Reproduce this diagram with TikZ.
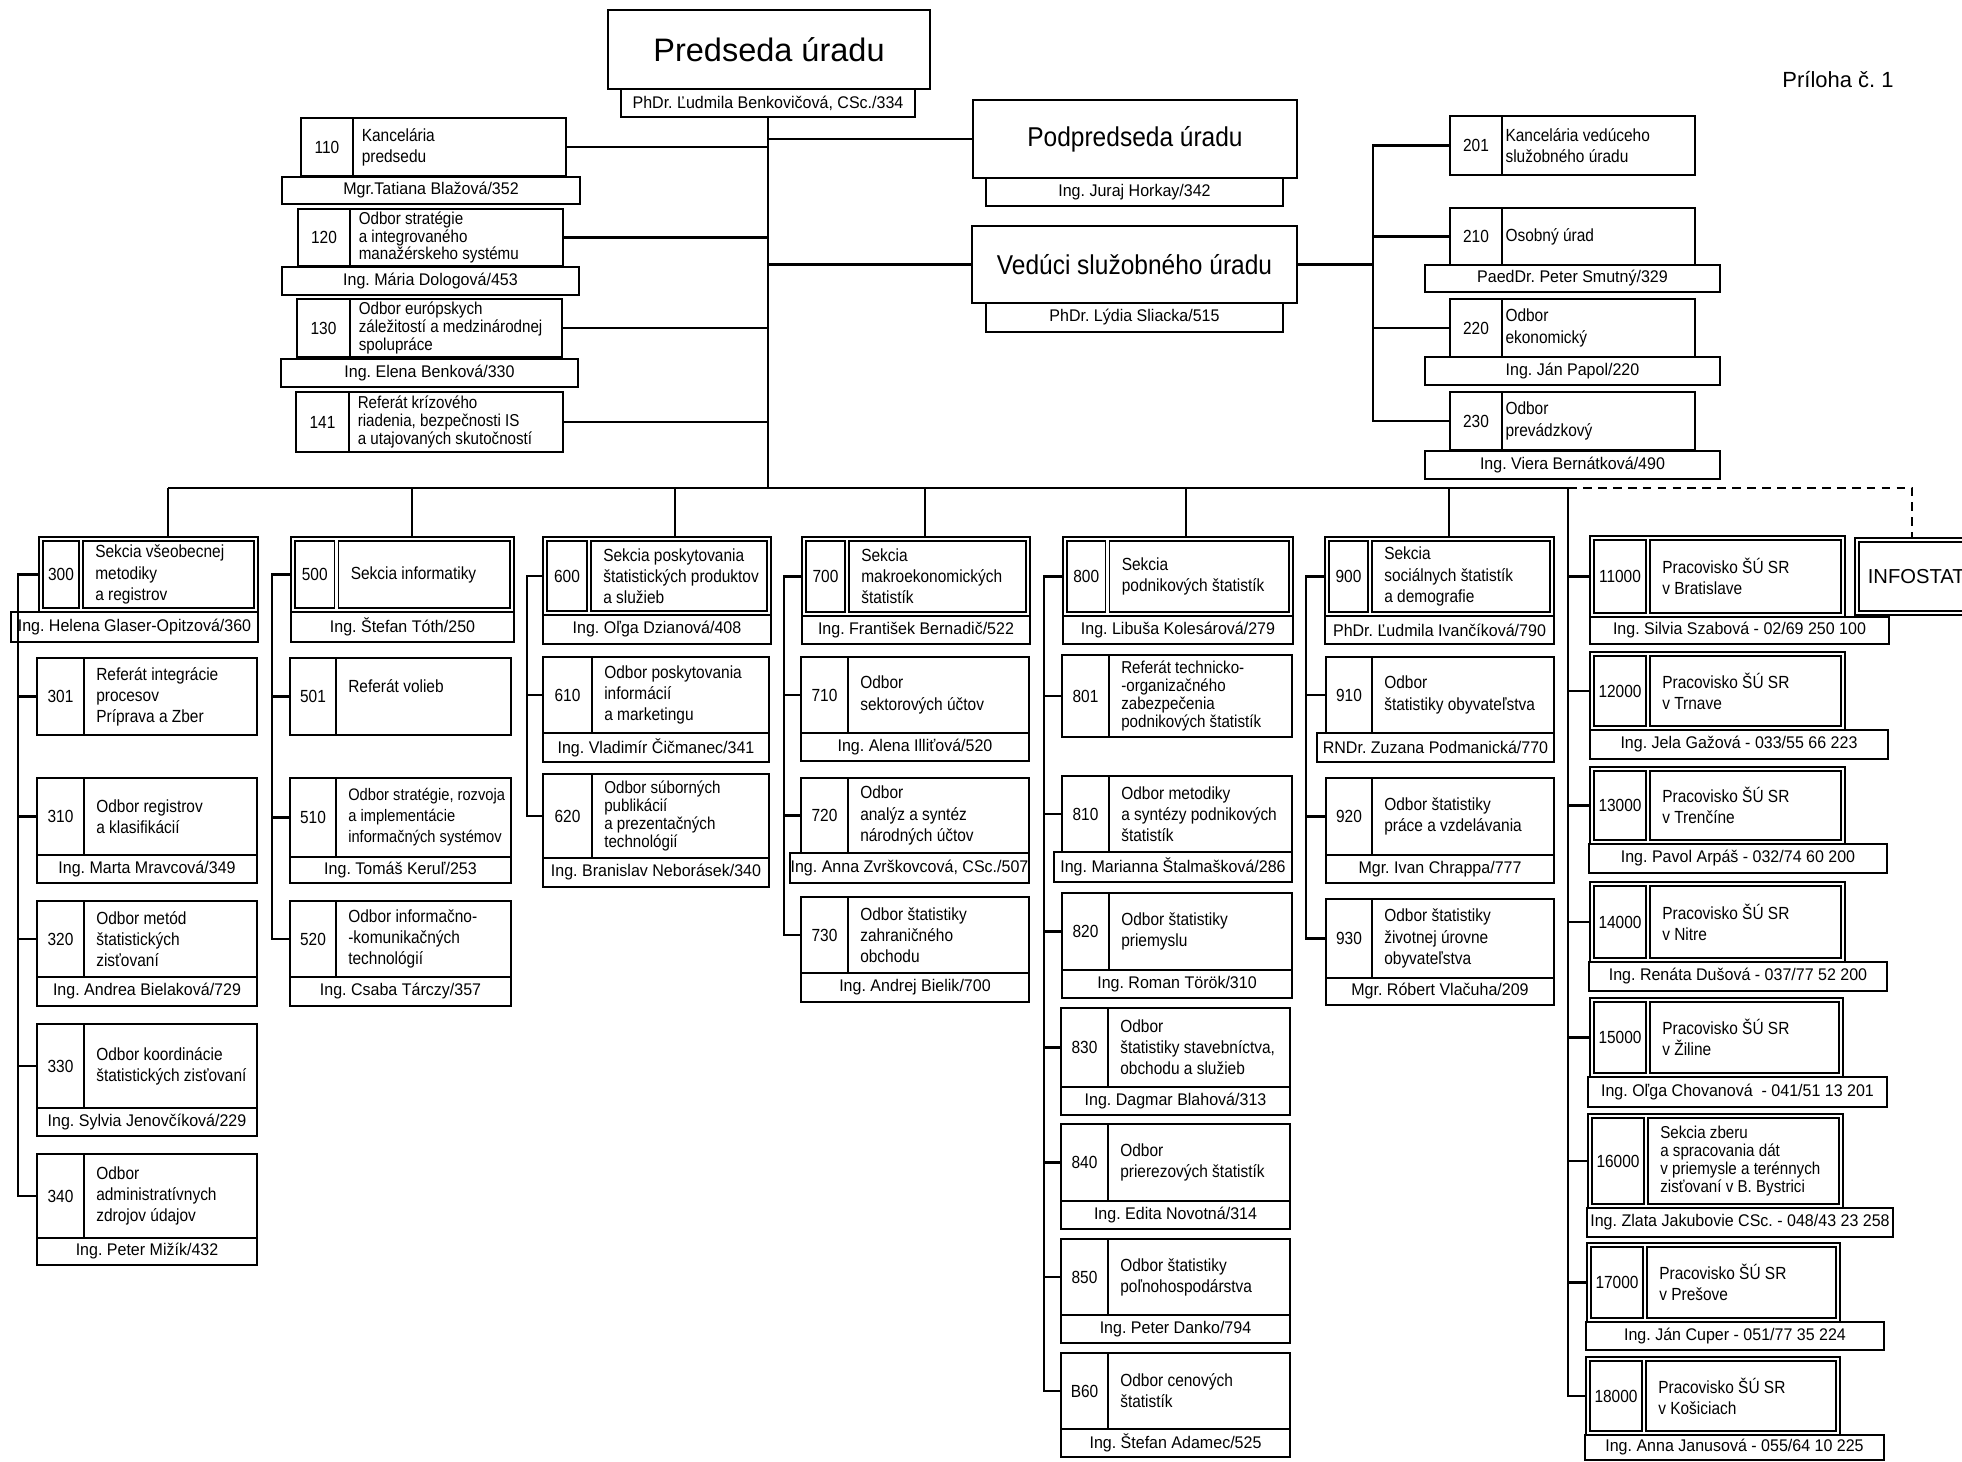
\documentclass[tikz,border=0pt]{standalone}
\usepackage{fontspec}
\setmainfont{Liberation Sans}
\newfontfamily\narrowfont[FakeStretch=0.88]{Liberation Sans}
\newfontfamily\namefont[FakeStretch=0.95]{Liberation Sans}
\newfontfamily\headfont[FakeStretch=0.9]{Liberation Sans}
\frenchspacing
\def\txtpad{7pt}
% one box from its corners: [style]{name}{x1}{y1}{x2}{y2}{centred text}
\newcommand{\boxat}[7][]{%
  \pgfmathsetlengthmacro{\cellw}{0.02cm*((#5)-(#3))}%
  \pgfmathsetlengthmacro{\cellh}{0.02cm*((#6)-(#4))}%
  \node[cell, #1, minimum width=\cellw, minimum height=\cellh]
    (#2) at ({((#3)+(#5))/2},{((#4)+(#6))/2}) {#7};}
% same, text flush left: [style]{name}{x1}{y1}{x2}{y2}{left pad}{text}
\newcommand{\lboxat}[8][]{%
  \boxat{#2}{#3}{#4}{#5}{#6}{}%
  \node[cell, draw=none, align=left, anchor=west, #1] (#2x) at ([xshift=#7]#2.west) {#8};}
% number cell + text cell: [style]{name}{x1}{xdiv}{x2}{y1}{y2}{number}{text}
\newcommand{\unitbox}[9][]{%
  \boxat{#2n}{#3}{#6}{#4}{#7}{#8}%
  \lboxat[#1]{#2t}{#4}{#6}{#5}{#7}{\txtpad}{#9}}
% double framed section: [style]{name}{x1}{x2}{xdiv}{y1}{y2}{number}{text}
\newcommand{\secbox}[9][]{%
  \boxat{#2f}{#3}{#6}{#4}{#7}{}%
  \boxat{#2n}{#3+4}{#6+4}{#5-2}{#7-4}{#8}%
  \lboxat[#1]{#2t}{#5+2}{#6+4}{#4-4}{#7-4}{\txtpad}{#9}}

\begin{document}
\begin{tikzpicture}[x=0.02cm, y=-0.02cm]
\tikzstyle{cell}=[rectangle, draw=black, line width=1.1pt, inner xsep=0pt, inner ysep=0pt, outer sep=0pt, align=center, font=\narrowfont\fontsize{10}{12}\selectfont]
\tikzstyle{namerow}=[font=\namefont\fontsize{9.6}{11}\selectfont]
\tikzstyle{tight}=[font=\narrowfont\fontsize{9.8}{10.2}\selectfont]
\tikzstyle{head}=[font=\headfont\fontsize{15.5}{18}\selectfont]
\tikzstyle{link}=[line width=1.4pt]
\useasboundingbox (0,0) rectangle (1962,1462);
  \coordinate (t3) at (168,488);
  \coordinate (t5) at (412,488);
  \coordinate (t6) at (675,488);
  \coordinate (t7) at (925,488);
  \coordinate (t8) at (1186,488);
  \coordinate (t9) at (1449,488);
  \coordinate (busR) at (1568,488);
  \coordinate (busD) at (1912,488);
  \coordinate (kR) at (1373,0);
  \coordinate (k3) at (18,0);
  \coordinate (k5) at (272,0);
  \coordinate (k6) at (527,0);
  \coordinate (k7) at (784,0);
  \coordinate (k8) at (1044,0);
  \coordinate (k9) at (1306,0);

  % top
  \boxat[font=\fontsize{18.5}{21}\selectfont]{pred}{608}{10}{930}{89}{Predseda úradu}
  \boxat[namerow]{predN}{621}{89}{915}{117}{PhDr. Ľudmila Benkovičová, CSc./334}
  \boxat[head]{pod}{973}{100}{1297}{178}{Podpredseda úradu}
  \boxat[namerow]{podN}{986}{178}{1283}{206}{Ing. Juraj Horkay/342}
  \boxat[head]{ved}{972}{226}{1297}{303}{Vedúci služobného úradu}
  \boxat[namerow]{vedN}{986}{303}{1283}{332}{PhDr. Lýdia Sliacka/515}
  \node[font=\fontsize{12.5}{14}\selectfont] (annex) at (1838,80) {Príloha č. 1};

  \def\txtpad{5pt}
  \unitbox{c110}{301}{353}{566}{118}{176}{110}{Kancelária\\predsedu}
  \boxat[namerow]{p110}{282}{177}{580}{204}{Mgr.Tatiana Blažová/352}
  \unitbox[tight]{c120}{298}{350}{563}{209}{266}{120}{Odbor stratégie\\a integrovaného\\manažérskeho systému}
  \boxat[namerow]{p120}{282}{267}{579}{295}{Ing. Mária Dologová/453}
  \unitbox[tight]{c130}{297}{350}{562}{299}{357}{130}{Odbor európskych\\záležitostí a medzinárodnej\\spolupráce}
  \boxat[namerow]{p130}{281}{359}{578}{387}{Ing. Elena Benková/330}
  \unitbox[tight]{c141}{296}{349}{563}{392}{452}{141}{Referát krízového\\riadenia, bezpečnosti IS\\a utajovaných skutočností}

  \def\txtpad{2pt}
  \unitbox{c201}{1450}{1502}{1695}{116}{175}{201}{Kancelária vedúceho\\služobného úradu}
  \unitbox{c210}{1450}{1502}{1695}{208}{265}{210}{Osobný úrad}
  \boxat[namerow]{p210}{1425}{265}{1720}{292}{PaedDr. Peter Smutný/329}
  \unitbox{c220}{1450}{1502}{1695}{299}{357}{220}{Odbor\\ekonomický}
  \boxat[namerow]{p220}{1425}{357}{1720}{385}{Ing. Ján Papol/220}
  \unitbox{c230}{1450}{1502}{1695}{392}{450}{230}{Odbor\\prevádzkový}
  \boxat[namerow]{p230}{1425}{451}{1720}{479}{Ing. Viera Bernátková/490}
  \def\txtpad{7pt}

  % sekcia 300
  \secbox{s300}{39}{258}{81}{537}{612}{300}{Sekcia všeobecnej\\metodiky\\a registrov}
  \boxat[namerow]{p300}{11}{612}{258}{642}{Ing. Helena Glaser-Opitzová/360}
  \unitbox{c301}{37}{84}{257}{658}{735}{301}{Referát integrácie\\procesov\\Príprava a Zber}
  \unitbox{c310}{37}{84}{257}{778}{855}{310}{Odbor registrov\\a klasifikácií}
  \boxat[namerow]{p310}{37}{855}{257}{883}{Ing. Marta Mravcová/349}
  \unitbox{c320}{37}{84}{257}{901}{977}{320}{Odbor metód\\štatistických\\zisťovaní}
  \boxat[namerow]{p320}{37}{977}{257}{1006}{Ing. Andrea Bielaková/729}
  \unitbox{c330}{37}{84}{257}{1024}{1108}{330}{Odbor koordinácie\\štatistických zisťovaní}
  \boxat[namerow]{p330}{37}{1108}{257}{1136}{Ing. Sylvia Jenovčíková/229}
  \unitbox{c340}{37}{84}{257}{1154}{1238}{340}{Odbor\\administratívnych\\zdrojov údajov}
  \boxat[namerow]{p340}{37}{1238}{257}{1265}{Ing. Peter Mižík/432}

  % sekcia 500
  \secbox{s500}{291}{514}{336.5}{537}{612}{500}{Sekcia informatiky}
  \boxat[namerow]{p500}{291}{612}{514}{642}{Ing. Štefan Tóth/250}
  \unitbox{c501}{290}{336}{511}{658}{735}{501}{Referát volieb\\\mbox{}}
  \unitbox[font=\narrowfont\fontsize{9.5}{12}\selectfont]{c510}{290}{336}{511}{778}{857}{510}{Odbor stratégie, rozvoja\\a implementácie\\informačných systémov}
  \boxat[namerow]{p510}{290}{857}{511}{883}{Ing. Tomáš Keruľ/253}
  \unitbox{c520}{290}{336}{511}{901}{977}{520}{Odbor informačno-\\-komunikačných\\technológií}
  \boxat[namerow]{p520}{290}{977}{511}{1006}{Ing. Csaba Tárczy/357}

  % sekcia 600
  \secbox{s600}{543}{771}{589}{537}{615}{600}{Sekcia poskytovania\\štatistických produktov\\a služieb}
  \boxat[namerow]{p600}{543}{615}{771}{644}{Ing. Oľga Dzianová/408}
  \unitbox{c610}{543}{592}{769}{657}{733}{610}{Odbor poskytovania\\informácií\\a marketingu}
  \boxat[namerow]{p610}{543}{733}{769}{762}{Ing. Vladimír Čičmanec/341}
  \unitbox[tight]{c620}{543}{592}{769}{774}{858}{620}{Odbor súborných\\publikácií\\a prezentačných\\technológií}
  \boxat[namerow]{p620}{543}{858}{769}{887}{Ing. Branislav Neborásek/340}

  % sekcia 700
  \secbox{s700}{802}{1030}{847}{537}{616}{700}{Sekcia\\makroekonomických\\štatistík}
  \boxat[namerow]{p700}{802}{616}{1030}{644}{Ing. František Bernadič/522}
  \unitbox{c710}{801}{848}{1029}{657}{733}{710}{Odbor\\sektorových účtov}
  \boxat[namerow]{p710}{801}{733}{1029}{761}{Ing. Alena Illiťová/520}
  \unitbox{c720}{801}{848}{1029}{778}{853}{720}{Odbor\\analýz a syntéz\\národných účtov}
  \boxat[namerow]{p720}{790}{853}{1029}{883}{Ing. Anna Zvrškovcová, CSc./507}
  \unitbox{c730}{801}{848}{1029}{897}{973}{730}{Odbor štatistiky\\zahraničného\\obchodu}
  \boxat[namerow]{p730}{801}{973}{1029}{1002}{Ing. Andrej Bielik/700}

  % sekcia 800
  \secbox{s800}{1063}{1293}{1107.5}{537}{616}{800}{Sekcia\\podnikových štatistík}
  \boxat[namerow]{p800}{1063}{616}{1293}{644}{Ing. Libuša Kolesárová/279}
  \unitbox[tight]{c801}{1062}{1109}{1292}{655}{737}{801}{Referát technicko-\\-organizačného\\zabezpečenia\\podnikových štatistík}
  \unitbox{c810}{1062}{1109}{1292}{776}{852}{810}{Odbor metodiky\\a syntézy podnikových\\štatistík}
  \boxat[namerow]{p810}{1054}{852}{1292}{882}{Ing. Marianna Štalmašková/286}
  \unitbox{c820}{1062}{1109}{1292}{893}{970}{820}{Odbor štatistiky\\priemyslu}
  \boxat[namerow]{p820}{1062}{970}{1292}{998}{Ing. Roman Török/310}
  \unitbox{c830}{1061}{1108}{1290}{1008}{1087}{830}{Odbor\\štatistiky stavebníctva,\\obchodu a služieb}
  \boxat[namerow]{p830}{1061}{1087}{1290}{1115}{Ing. Dagmar Blahová/313}
  \unitbox{c840}{1061}{1108}{1290}{1124}{1201}{840}{Odbor\\prierezových štatistík}
  \boxat[namerow]{p840}{1061}{1201}{1290}{1229}{Ing. Edita Novotná/314}
  \unitbox{c850}{1061}{1108}{1290}{1239}{1315}{850}{Odbor štatistiky\\poľnohospodárstva}
  \boxat[namerow]{p850}{1061}{1315}{1290}{1343}{Ing. Peter Danko/794}
  \unitbox{c860}{1061}{1108}{1290}{1353}{1429}{B60}{Odbor cenových\\štatistík}
  \boxat[namerow]{p860}{1061}{1429}{1290}{1457}{Ing. Štefan Adamec/525}

  % sekcia 900
  \secbox{s900}{1325}{1554}{1370}{537}{616}{900}{Sekcia\\sociálnych štatistík\\a demografie}
  \boxat[namerow]{p900}{1325}{616}{1554}{644}{PhDr. Ľudmila Ivančíková/790}
  \unitbox{c910}{1326}{1372}{1554}{657}{733}{910}{Odbor\\štatistiky obyvateľstva}
  \boxat[namerow]{p910}{1317}{733}{1554}{762}{RNDr. Zuzana Podmanická/770}
  \unitbox{c920}{1326}{1372}{1554}{778}{855}{920}{Odbor štatistiky\\práce a vzdelávania}
  \boxat[namerow]{p920}{1326}{855}{1554}{883}{Mgr. Ivan Chrappa/777}
  \unitbox{c930}{1326}{1372}{1554}{899}{978}{930}{Odbor štatistiky\\životnej úrovne\\obyvateľstva}
  \boxat[namerow]{p930}{1326}{978}{1554}{1005}{Mgr. Róbert Vlačuha/209}

  % pracoviska
  \secbox{r11}{1590}{1845}{1648}{536}{617}{11000}{Pracovisko ŠÚ SR\\v Bratislave}
  \boxat[namerow]{q11}{1590}{617}{1889}{644}{Ing. Silvia Szabová - 02/69 250 100}
  \boxat{infof}{1855}{538}{2010}{615}{}
  \lboxat[font=\fontsize{11.5}{14}\selectfont]{info}{1859}{542}{2006}{611}{5pt}{INFOSTAT}
  \secbox{r12}{1590}{1845}{1648}{652}{730}{12000}{Pracovisko ŠÚ SR\\v Trnave}
  \boxat[namerow]{q12}{1590}{730}{1888}{759}{Ing. Jela Gažová - 033/55 66 223}
  \secbox{r13}{1590}{1845}{1648}{767}{844}{13000}{Pracovisko ŠÚ SR\\v Trenčíne}
  \boxat[namerow]{q13}{1589}{844}{1887}{873}{Ing. Pavol Arpáš - 032/74 60 200}
  \secbox{r14}{1590}{1845}{1648}{882}{962}{14000}{Pracovisko ŠÚ SR\\v Nitre}
  \boxat[namerow]{q14}{1589}{962}{1887}{991}{Ing. Renáta Dušová - 037/77 52 200}
  \secbox{r15}{1590}{1843}{1648}{998}{1077}{15000}{Pracovisko ŠÚ SR\\v Žiline}
  \boxat[namerow]{q15}{1588}{1077}{1887}{1107}{Ing. Oľga Chovanová \ - 041/51 13 201}
  \secbox[tight]{r16}{1588}{1843}{1646}{1114}{1208}{16000}{Sekcia zberu\\a spracovania dát\\v priemysle a terénnych\\zisťovaní v B. Bystrici}
  \boxat[namerow]{q16}{1587}{1208}{1893}{1237}{Ing. Zlata Jakubovie CSc. - 048/43 23 258}
  \secbox{r17}{1587}{1840}{1645}{1243}{1322}{17000}{Pracovisko ŠÚ SR\\v Prešove}
  \boxat[namerow]{q17}{1586}{1322}{1884}{1350}{Ing. Ján Cuper - 051/77 35 224}
  \secbox{r18}{1586}{1840}{1644}{1357}{1435}{18000}{Pracovisko ŠÚ SR\\v Košiciach}
  \boxat[namerow]{q18}{1585}{1435}{1884}{1460}{Ing. Anna Janusová - 055/64 10 225}

  % connectors
  \draw[link] (predN.south) -- (predN.south |- t3);
  \draw[link] (c110t.east) -- (c110t.east -| predN.south);
  \draw[link] (c120t.east) -- (c120t.east -| predN.south);
  \draw[link] (c130t.east) -- (c130t.east -| predN.south);
  \draw[link] (c141t.east) -- (c141t.east -| predN.south);
  \draw[link] (pod.west) -- (pod.west -| predN.south);
  \draw[link] (ved.west) -- (ved.west -| predN.south);
  \draw[link] (ved.east) -- (ved.east -| kR);
  \draw[link] (c201n.west) -- (c201n.west -| kR) -- (c230n.west -| kR) -- (c230n.west);
  \draw[link] (c210n.west) -- (c210n.west -| kR);
  \draw[link] (c220n.west) -- (c220n.west -| kR);

  \draw[link] (t3) -- (busR);
  \draw[link, dash pattern=on 5pt off 3.5pt] (busR) -- (busD) -- (busD |- infof.north);
  \draw[link] (t3) -- (t3 |- s300f.north);
  \draw[link] (t5) -- (t5 |- s500f.north);
  \draw[link] (t6) -- (t6 |- s600f.north);
  \draw[link] (t7) -- (t7 |- s700f.north);
  \draw[link] (t8) -- (t8 |- s800f.north);
  \draw[link] (t9) -- (t9 |- s900f.north);

  \draw[link] (s300f.west) -- (s300f.west -| k3) -- (c340n.west -| k3) -- (c340n.west);
  \draw[link] (c301n.west) -- (c301n.west -| k3);
  \draw[link] (c310n.west) -- (c310n.west -| k3);
  \draw[link] (c320n.west) -- (c320n.west -| k3);
  \draw[link] (c330n.west) -- (c330n.west -| k3);

  \draw[link] (s500f.west) -- (s500f.west -| k5) -- (c520n.west -| k5) -- (c520n.west);
  \draw[link] (c501n.west) -- (c501n.west -| k5);
  \draw[link] (c510n.west) -- (c510n.west -| k5);

  \draw[link] (s600f.west) -- (s600f.west -| k6) -- (c620n.west -| k6) -- (c620n.west);
  \draw[link] (c610n.west) -- (c610n.west -| k6);

  \draw[link] (s700f.west) -- (s700f.west -| k7) -- (c730n.west -| k7) -- (c730n.west);
  \draw[link] (c710n.west) -- (c710n.west -| k7);
  \draw[link] (c720n.west) -- (c720n.west -| k7);

  \draw[link] (s800f.west) -- (s800f.west -| k8) -- (c860n.west -| k8) -- (c860n.west);
  \draw[link] (c801n.west) -- (c801n.west -| k8);
  \draw[link] (c810n.west) -- (c810n.west -| k8);
  \draw[link] (c820n.west) -- (c820n.west -| k8);
  \draw[link] (c830n.west) -- (c830n.west -| k8);
  \draw[link] (c840n.west) -- (c840n.west -| k8);
  \draw[link] (c850n.west) -- (c850n.west -| k8);

  \draw[link] (s900f.west) -- (s900f.west -| k9) -- (c930n.west -| k9) -- (c930n.west);
  \draw[link] (c910n.west) -- (c910n.west -| k9);
  \draw[link] (c920n.west) -- (c920n.west -| k9);

  \draw[link] (busR) -- (busR |- r18f.west) -- (r18f.west);
  \draw[link] (r11f.west) -- (r11f.west -| busR);
  \draw[link] (r12f.west) -- (r12f.west -| busR);
  \draw[link] (r13f.west) -- (r13f.west -| busR);
  \draw[link] (r14f.west) -- (r14f.west -| busR);
  \draw[link] (r15f.west) -- (r15f.west -| busR);
  \draw[link] (r16f.west) -- (r16f.west -| busR);
  \draw[link] (r17f.west) -- (r17f.west -| busR);
\end{tikzpicture}
\end{document}
